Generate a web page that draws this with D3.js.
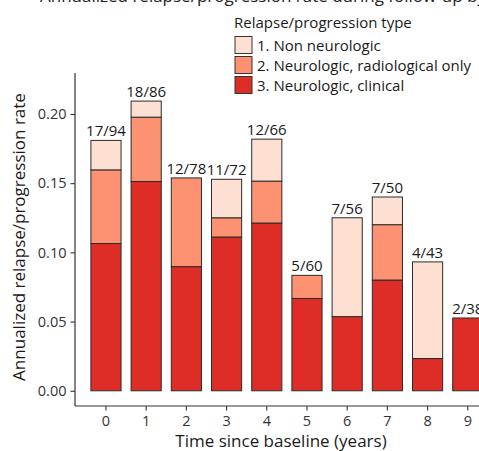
<!DOCTYPE html>
<html>
<head>
<meta charset="utf-8">
<script src="https://cdn.jsdelivr.net/npm/d3@7"></script>
<style>
  html, body { margin: 0; padding: 0; background: #fff; }
  svg { display: block; font-family: "Open Sans", "Noto Sans", sans-serif; }
</style>
</head>
<body>
<svg id="chart" width="479" height="451"></svg>
<script>
// ---- data ----
const years = ["0", "1", "2", "3", "4", "5", "6", "7", "8", "9"];
const clinical     = [0.1064, 0.1512, 0.0897, 0.1111, 0.1212, 0.0667, 0.0536, 0.0800, 0.0233, 0.0526];
const radiological = [0.0532, 0.0465, 0.0641, 0.0139, 0.0303, 0.0167, 0.0000, 0.0400, 0.0000, 0.0000];
const nonNeuro     = [0.0213, 0.0116, 0.0000, 0.0278, 0.0303, 0.0000, 0.0714, 0.0200, 0.0698, 0.0000];
const barLabels    = ["17/94", "18/86", "12/78", "11/72", "12/66", "5/60", "7/56", "7/50", "4/43", "2/38"];
const yTicks       = [0, 0.05, 0.10, 0.15, 0.20];
const seriesNames  = ["1. Non neurologic", "2. Neurologic, radiological only", "3. Neurologic, clinical"];
const seriesColors = ["#fee0d2", "#fc9272", "#de2d26"];

// ---- layout ----
const svg = d3.select("#chart");
const panel = { left: 75, right: 479, top: 73, bottom: 406 };

const x = d3.scaleBand()
  .domain(years)
  .range([70.8, 502.95])
  .paddingInner(0.25)
  .paddingOuter(0.5);

const y = d3.scaleLinear()
  .domain([-0.011, 0.2296])
  .range([panel.bottom, panel.top]);

const rows = years.map((yr, i) => ({
  year: yr, clinical: clinical[i], radiological: radiological[i], nonNeuro: nonNeuro[i], label: barLabels[i]
}));
const keys = ["clinical", "radiological", "nonNeuro"];
const keyColor = { clinical: seriesColors[2], radiological: seriesColors[1], nonNeuro: seriesColors[0] };
const stack = d3.stack().keys(keys)(rows);

// title (cropped at the top in the reference)
svg.append("text")
  .attr("x", 40).attr("y", 2)
  .attr("font-size", 17).attr("fill", "#222")
  .text("Annualized relapse/progression rate during follow-up by type");

// bars
const g = svg.append("g");
stack.forEach(layer => {
  g.selectAll(null)
    .data(layer.filter(d => d[1] - d[0] > 0))
    .join("rect")
    .attr("x", d => x(d.data.year))
    .attr("width", x.bandwidth())
    .attr("y", d => y(d[1]))
    .attr("height", d => y(d[0]) - y(d[1]))
    .attr("fill", keyColor[layer.key])
    .attr("stroke", "#2b2b2b")
    .attr("stroke-width", 1);
});

// bar labels
svg.selectAll(".blab")
  .data(rows)
  .join("text")
  .attr("class", "blab")
  .attr("x", d => x(d.year) + x.bandwidth() / 2)
  .attr("y", d => y(d.clinical + d.radiological + d.nonNeuro) - 4)
  .attr("text-anchor", "middle")
  .attr("font-size", 15)
  .attr("fill", "#1a1a1a")
  .text(d => d.label);

// y axis
const yAxis = d3.axisLeft(y).tickValues(yTicks).tickFormat(d3.format(".2f")).tickSize(4.5).tickPadding(4);
const yg = svg.append("g").attr("transform", `translate(${panel.left},0)`).call(yAxis);
yg.select(".domain").remove();
yg.selectAll(".tick line").attr("stroke", "#333").attr("stroke-width", 1.1);
yg.selectAll(".tick text").attr("font-size", 14.5).attr("fill", "#333").attr("font-family", "Open Sans, sans-serif");
svg.append("line")
  .attr("x1", panel.left).attr("x2", panel.left)
  .attr("y1", panel.top).attr("y2", panel.bottom)
  .attr("stroke", "#333").attr("stroke-width", 1.2);

// x axis
const xAxis = d3.axisBottom(x).tickSize(4.5).tickPadding(5.5);
const xg = svg.append("g").attr("transform", `translate(0,${panel.bottom})`).call(xAxis);
xg.select(".domain").remove();
xg.selectAll(".tick line").attr("stroke", "#333").attr("stroke-width", 1.1);
xg.selectAll(".tick text").attr("font-size", 14.5).attr("fill", "#333").attr("font-family", "Open Sans, sans-serif");
svg.append("line")
  .attr("x1", panel.left).attr("x2", panel.right)
  .attr("y1", panel.bottom).attr("y2", panel.bottom)
  .attr("stroke", "#333").attr("stroke-width", 1.2);

// axis titles
svg.append("text")
  .attr("x", 281).attr("y", 446.5)
  .attr("text-anchor", "middle")
  .attr("font-size", 17).attr("fill", "#1a1a1a")
  .text("Time since baseline (years)");

svg.append("text")
  .attr("transform", "translate(24.5,237) rotate(-90)")
  .attr("text-anchor", "middle")
  .attr("font-size", 17).attr("fill", "#1a1a1a")
  .text("Annualized relapse/progression rate");

// legend
const lg = svg.append("g").attr("transform", "translate(234,0)");
lg.append("text").attr("x", 0).attr("y", 27.5)
  .attr("font-size", 15).attr("fill", "#1a1a1a")
  .text("Relapse/progression type");
seriesNames.forEach((name, i) => {
  lg.append("rect")
    .attr("x", 1).attr("y", 36.5 + i * 20)
    .attr("width", 17).attr("height", 17)
    .attr("fill", seriesColors[i])
    .attr("stroke", "#333").attr("stroke-width", 1);
  lg.append("text")
    .attr("x", 23).attr("y", 50.5 + i * 20)
    .attr("font-size", 15).attr("fill", "#1a1a1a")
    .text(name);
});
</script>
</body>
</html>
